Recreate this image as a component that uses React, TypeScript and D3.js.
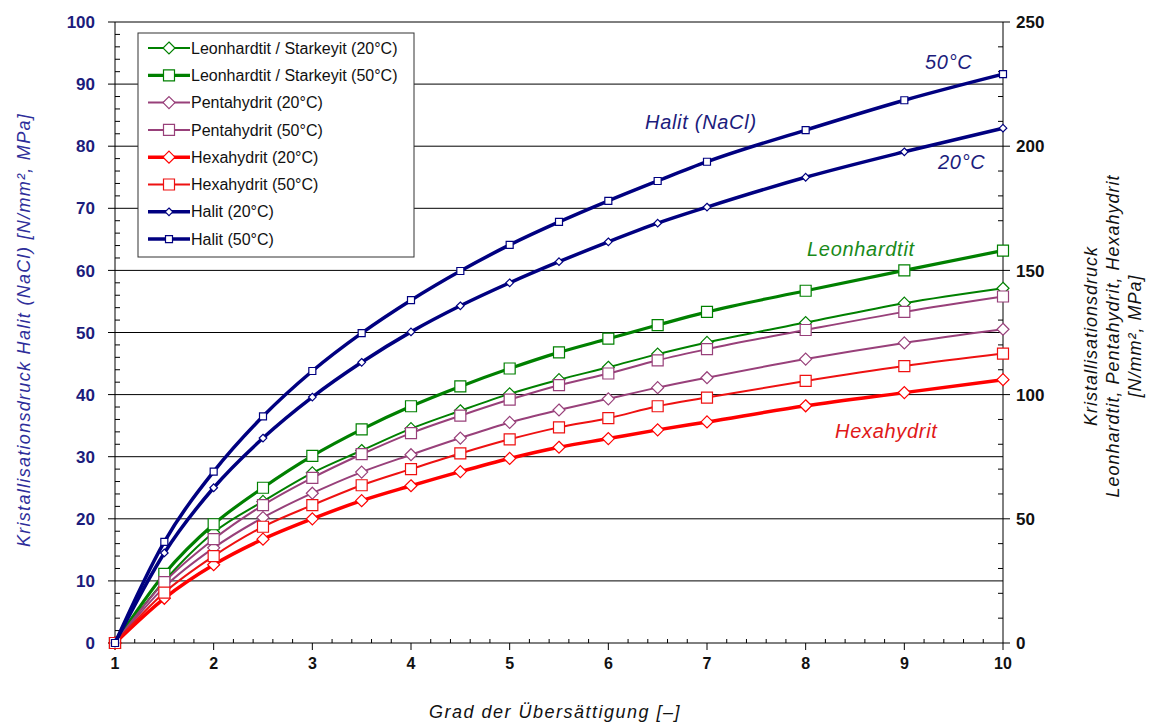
import React, { useEffect, useRef } from 'react';
import * as d3 from 'd3';

// Grad der Übersättigung (x values where markers sit)
const grade = [1, 1.5, 2, 2.5, 3, 3.5, 4, 4.5, 5, 5.5, 6, 6.5, 7, 8, 9, 10];

// right axis series (Leonhardtit, Pentahydrit, Hexahydrit) in N/mm²
const leon20 = [0, 25, 44.5, 57, 68.5, 77.5, 86.3, 93.5, 100.3, 106, 111, 116.3, 121, 129, 136.8, 142.8];
const leon50 = [0, 27.8, 47.8, 62.5, 75.3, 86, 95.3, 103.3, 110.5, 117, 122.5, 128, 133.3, 141.8, 150, 158];
const pent20 = [0, 22.5, 38.3, 50.5, 60.3, 68.8, 75.8, 82.5, 88.8, 93.8, 98.3, 102.8, 106.8, 114.3, 120.8, 126.3];
const pent50 = [0, 24.5, 41.8, 55.5, 66.5, 76, 84.5, 91.5, 98, 103.8, 108.5, 113.8, 118.3, 126, 133.3, 139.5];
const hexa20 = [0, 18, 31.5, 41.8, 50, 57.3, 63.3, 69, 74.3, 78.8, 82.3, 85.8, 89, 95.5, 100.8, 106];
const hexa50 = [0, 20.3, 35, 46.8, 55.5, 63.5, 70, 76.3, 82, 86.8, 90.5, 95.3, 98.8, 105.5, 111.5, 116.5];

// left axis series (Halit)
const halit20 = [0, 14.5, 25, 33, 39.6, 45.2, 50.1, 54.3, 58, 61.4, 64.6, 67.6, 70.2, 75, 79.1, 82.9];
const halit50 = [0, 16.3, 27.6, 36.5, 43.8, 49.9, 55.2, 59.9, 64.1, 67.8, 71.2, 74.4, 77.5, 82.6, 87.4, 91.6];

const seriesNames = [
  'Leonhardtit / Starkeyit (20°C)',
  'Leonhardtit / Starkeyit (50°C)',
  'Pentahydrit (20°C)',
  'Pentahydrit (50°C)',
  'Hexahydrit (20°C)',
  'Hexahydrit (50°C)',
  'Halit (20°C)',
  'Halit (50°C)',
];

const FONT = '"Liberation Sans", Arial, sans-serif';

const App = () => {
  const svgRef = useRef<SVGSVGElement>(null);
  const width = 1157;
  const height = 725;

  useEffect(() => {
    const svg = d3.select(svgRef.current);
    svg.selectAll('*').remove();

    const margin = { top: 22, right: 154, bottom: 82, left: 115 };
    const innerW = width - margin.left - margin.right;
    const innerH = height - margin.top - margin.bottom;

    const x = d3.scaleLinear().domain([1, 10]).range([0, innerW]);
    const yL = d3.scaleLinear().domain([0, 100]).range([innerH, 0]);
    const yR = d3.scaleLinear().domain([0, 250]).range([innerH, 0]);

    const g = svg.append('g').attr('transform', `translate(${margin.left},${margin.top})`);

    // grid lines
    g.append('g')
      .selectAll('line')
      .data(d3.range(10, 101, 10))
      .join('line')
      .attr('x1', 0)
      .attr('x2', innerW)
      .attr('y1', (d) => yL(d))
      .attr('y2', (d) => yL(d))
      .attr('stroke', '#000')
      .attr('stroke-width', 1);

    // left axis
    const left = g.append('g');
    left.append('line').attr('x1', 0).attr('x2', 0).attr('y1', 0).attr('y2', innerH).attr('stroke', '#000');
    left.selectAll('.minor')
      .data(d3.range(0, 101, 2).filter((d) => d % 10 !== 0))
      .join('line')
      .attr('x1', 0).attr('x2', 5)
      .attr('y1', (d) => yL(d)).attr('y2', (d) => yL(d))
      .attr('stroke', '#000');
    left.selectAll('.major')
      .data(d3.range(0, 101, 10))
      .join('line')
      .attr('x1', -7).attr('x2', 0)
      .attr('y1', (d) => yL(d)).attr('y2', (d) => yL(d))
      .attr('stroke', '#000');
    left.selectAll('text')
      .data(d3.range(0, 101, 10))
      .join('text')
      .attr('x', -20)
      .attr('y', (d) => yL(d))
      .attr('dy', '0.36em')
      .attr('text-anchor', 'end')
      .attr('font-family', FONT)
      .attr('font-weight', 'bold')
      .attr('font-size', 17)
      .attr('fill', '#1c1c7c')
      .text((d) => d);

    // right axis
    const right = g.append('g').attr('transform', `translate(${innerW},0)`);
    right.append('line').attr('x1', 0).attr('x2', 0).attr('y1', 0).attr('y2', innerH).attr('stroke', '#000');
    right.selectAll('.minor')
      .data(d3.range(0, 251, 10).filter((d) => d % 50 !== 0))
      .join('line')
      .attr('x1', -5).attr('x2', 0)
      .attr('y1', (d) => yR(d)).attr('y2', (d) => yR(d))
      .attr('stroke', '#000');
    right.selectAll('.major')
      .data(d3.range(0, 251, 50))
      .join('line')
      .attr('x1', 0).attr('x2', 7)
      .attr('y1', (d) => yR(d)).attr('y2', (d) => yR(d))
      .attr('stroke', '#000');
    right.selectAll('text')
      .data(d3.range(0, 251, 50))
      .join('text')
      .attr('x', 13)
      .attr('y', (d) => yR(d))
      .attr('dy', '0.36em')
      .attr('font-family', FONT)
      .attr('font-weight', 'bold')
      .attr('font-size', 17)
      .attr('fill', '#111')
      .text((d) => d);

    // bottom axis
    const bottom = g.append('g').attr('transform', `translate(0,${innerH})`);
    bottom.append('line').attr('x1', 0).attr('x2', innerW).attr('stroke', '#000');
    bottom.selectAll('.minor')
      .data(d3.range(1, 10.01, 0.2).filter((d) => Math.abs(d - Math.round(d)) > 0.01))
      .join('line')
      .attr('x1', (d) => x(d)).attr('x2', (d) => x(d))
      .attr('y1', -4).attr('y2', 0)
      .attr('stroke', '#000');
    bottom.selectAll('.major')
      .data(d3.range(1, 11))
      .join('line')
      .attr('x1', (d) => x(d)).attr('x2', (d) => x(d))
      .attr('y1', 0).attr('y2', 7)
      .attr('stroke', '#000');
    bottom.selectAll('text')
      .data(d3.range(1, 11))
      .join('text')
      .attr('x', (d) => x(d))
      .attr('y', 26)
      .attr('text-anchor', 'middle')
      .attr('font-family', FONT)
      .attr('font-weight', 'bold')
      .attr('font-size', 16)
      .attr('fill', '#111')
      .text((d) => d);

    // series
    const series = [
      { name: seriesNames[0], vals: leon20, y: yR, color: '#008000', sw: 2, m: 'diamond', ms: 6 },
      { name: seriesNames[1], vals: leon50, y: yR, color: '#008000', sw: 3.2, m: 'square', ms: 5.5 },
      { name: seriesNames[2], vals: pent20, y: yR, color: '#98407a', sw: 2, m: 'diamond', ms: 6 },
      { name: seriesNames[3], vals: pent50, y: yR, color: '#98407a', sw: 2, m: 'square', ms: 5.5 },
      { name: seriesNames[4], vals: hexa20, y: yR, color: '#ff0000', sw: 3.5, m: 'diamond', ms: 6 },
      { name: seriesNames[5], vals: hexa50, y: yR, color: '#ee1111', sw: 2, m: 'square', ms: 5.5 },
      { name: seriesNames[6], vals: halit20, y: yL, color: '#000080', sw: 3.5, m: 'diamond', ms: 3.8 },
      { name: seriesNames[7], vals: halit50, y: yL, color: '#000080', sw: 3.5, m: 'square', ms: 3.5 },
    ];

    const markerPath = (m: string, s: number) =>
      m === 'diamond'
        ? `M0,${-s}L${s},0L0,${s}L${-s},0Z`
        : `M${-s},${-s}H${s}V${s}H${-s}Z`;

    series.forEach((s) => {
      const pts = grade.map((gx, i) => [gx, s.vals[i]] as [number, number]);
      const line = d3
        .line<[number, number]>()
        .x((d) => x(d[0]))
        .y((d) => s.y(d[1]))
        .curve(d3.curveMonotoneX);
      g.append('path')
        .datum(pts)
        .attr('fill', 'none')
        .attr('stroke', s.color)
        .attr('stroke-width', s.sw)
        .attr('d', line);
      g.append('g')
        .selectAll('path')
        .data(pts)
        .join('path')
        .attr('transform', (d) => `translate(${x(d[0])},${s.y(d[1])})`)
        .attr('d', markerPath(s.m, s.ms))
        .attr('fill', '#fff')
        .attr('stroke', s.color)
        .attr('stroke-width', 1.2);
    });

    // legend
    const lg = svg.append('g').attr('transform', 'translate(138,33)');
    lg.append('rect')
      .attr('width', 276)
      .attr('height', 224)
      .attr('fill', '#fff')
      .attr('stroke', '#333')
      .attr('stroke-width', 1);
    series.forEach((s, i) => {
      const row = lg.append('g').attr('transform', `translate(0,${15 + i * 27.3})`);
      row.append('line')
        .attr('x1', 10).attr('x2', 52)
        .attr('stroke', s.color)
        .attr('stroke-width', s.sw);
      row.append('path')
        .attr('transform', 'translate(31,0)')
        .attr('d', markerPath(s.m, s.ms))
        .attr('fill', '#fff')
        .attr('stroke', s.color)
        .attr('stroke-width', 1.2);
      row.append('text')
        .attr('x', 53)
        .attr('dy', '0.35em')
        .attr('font-family', FONT)
        .attr('font-size', 16)
        .attr('fill', '#111')
        .text(s.name);
    });

    // annotations
    const notes = [
      { t: '50°C', x: 925, y: 69, c: '#1c1c7c' },
      { t: 'Halit (NaCl)', x: 645, y: 129, c: '#1c1c7c' },
      { t: '20°C', x: 938, y: 169, c: '#1c1c7c' },
      { t: 'Leonhardtit', x: 807, y: 256, c: '#1a8a1a' },
      { t: 'Hexahydrit', x: 835, y: 438, c: '#e01818' },
    ];
    svg.append('g')
      .selectAll('text')
      .data(notes)
      .join('text')
      .attr('x', (d) => d.x)
      .attr('y', (d) => d.y)
      .attr('font-family', FONT)
      .attr('font-style', 'italic')
      .attr('font-size', 20)
      .attr('letter-spacing', 0.7)
      .attr('fill', (d) => d.c)
      .text((d) => d.t);

    // axis titles
    svg.append('text')
      .attr('transform', 'translate(30,330) rotate(-90)')
      .attr('text-anchor', 'middle')
      .attr('font-family', FONT)
      .attr('font-style', 'italic')
      .attr('font-size', 18)
      .attr('letter-spacing', 1.3)
      .attr('fill', '#2e2e9a')
      .text('Kristallisationsdruck Halit (NaCl) [N/mm², MPa]');

    const rt = svg.append('text')
      .attr('transform', 'translate(1097,336) rotate(-90)')
      .attr('text-anchor', 'middle')
      .attr('font-family', FONT)
      .attr('font-style', 'italic')
      .attr('font-size', 18)
      .attr('letter-spacing', 1)
      .attr('fill', '#111');
    ['Kristallisationsdruck', 'Leonhardtit, Pentahydrit, Hexahydrit', '[N/mm², MPa]'].forEach((t, i) => {
      rt.append('tspan').attr('x', 0).attr('y', i * 22).text(t);
    });

    svg.append('text')
      .attr('x', 555)
      .attr('y', 718)
      .attr('text-anchor', 'middle')
      .attr('font-family', FONT)
      .attr('font-style', 'italic')
      .attr('font-size', 18)
      .attr('letter-spacing', 1.5)
      .attr('fill', '#111')
      .text('Grad der Übersättigung [–]');
  }, []);

  return (
    <svg
      ref={svgRef}
      width={width}
      height={height}
      style={{ position: 'absolute', left: 0, top: 0, background: '#fff' }}
    ></svg>
  );
};

export default App;
